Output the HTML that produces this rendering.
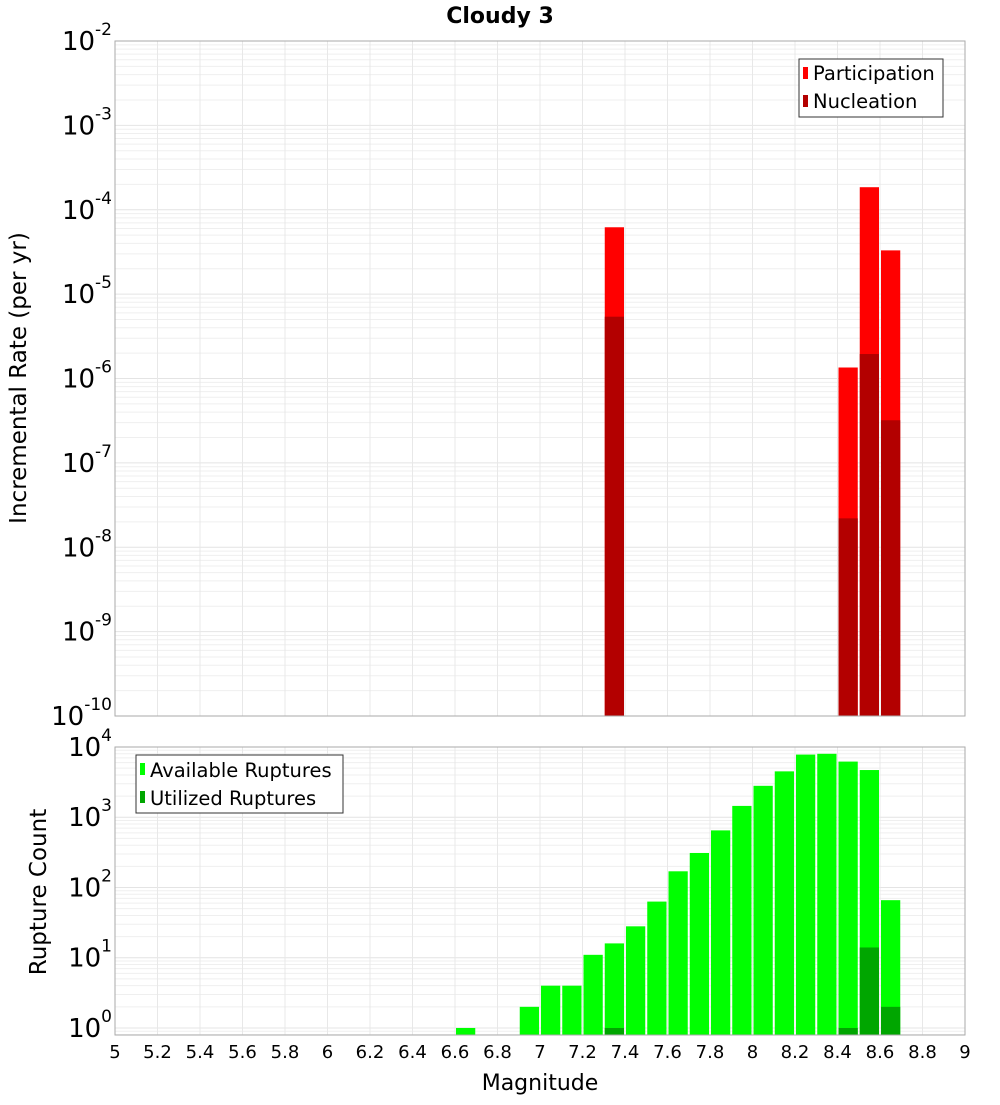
<!DOCTYPE html>
<html><head><meta charset="utf-8"><style>
body{margin:0;background:#fff}
svg text{font-family:"DejaVu Sans","Liberation Sans",sans-serif}
</style></head><body>
<svg id="c" width="1000" height="1100" xmlns="http://www.w3.org/2000/svg">
<text x="500" y="23" text-anchor="middle" font-size="22" font-weight="bold">Cloudy 3</text>
<g id="gtop"></g>
<g id="gbot"></g>
<text transform="translate(26,378) rotate(-90)" text-anchor="middle" font-size="23">Incremental Rate (per yr)</text>
<text transform="translate(46,892) rotate(-90)" text-anchor="middle" font-size="23">Rupture Count</text>
<text x="540" y="1090" text-anchor="middle" font-size="22">Magnitude</text>
<g id="legends">
<g>
<rect x="799" y="59" width="144" height="58" fill="#fff" stroke="#333"/>
<rect x="803" y="67" width="5" height="12" fill="#ff0000"/>
<text x="813" y="80" font-size="19.5">Participation</text>
<rect x="803" y="95" width="5" height="12" fill="#b30000"/>
<text x="813" y="108" font-size="19.5">Nucleation</text>
</g>
<g>
<rect x="136" y="755" width="207" height="58" fill="#fff" stroke="#333"/>
<rect x="140" y="763" width="5" height="12" fill="#00ff00"/>
<text x="150" y="777" font-size="19.5">Available Ruptures</text>
<rect x="140" y="791" width="5" height="12" fill="#00a600"/>
<text x="150" y="805" font-size="19.5">Utilized Ruptures</text>
</g>
</g>
</svg>
<script>
const xTicks=[5,5.2,5.4,5.6,5.8,6,6.2,6.4,6.6,6.8,7,7.2,7.4,7.6,7.8,8,8.2,8.4,8.6,8.8,9];
const rateMags=[7.35,8.45,8.55,8.65];
const participation=[6.2e-5,1.35e-6,1.85e-4,3.3e-5];
const nucleation=[5.4e-6,2.2e-8,1.95e-6,3.2e-7];
const countMags=[6.65,6.95,7.05,7.15,7.25,7.35,7.45,7.55,7.65,7.75,7.85,7.95,8.05,8.15,8.25,8.35,8.45,8.55,8.65];
const available=[1,2,4,4,11,16,28,63,170,310,650,1450,2800,4500,7800,8000,6200,4700,66];
const utilMags=[7.35,8.45,8.55,8.65];
const utilized=[1,1,14,2];
const rateDecades=[-2,-3,-4,-5,-6,-7,-8,-9,-10];
const countDecades=[0,1,2,3,4];

const NS='http://www.w3.org/2000/svg';
const L=115,R=965;
const xs=m=>L+(m-5)/4*(R-L);
function el(p,t,a){const e=document.createElementNS(NS,t);for(const k in a)e.setAttribute(k,a[k]);p.appendChild(e);return e;}
function panel(g,T,B,lmin,lmax,name){
  const ys=v=>B-(Math.log10(v)-lmin)/(lmax-lmin)*(B-T);
  el(g,'rect',{x:L,y:T,width:R-L,height:B-T,fill:'#fff'});
  for(let d=Math.floor(lmin);d<lmax;d++)for(let k=1;k<10;k++){
    const v=k*Math.pow(10,d);const l=Math.log10(v);if(l<lmin||l>lmax)continue;
    const y=ys(v);
    const ln=el(g,'line',{x1:L,x2:R,y1:y,y2:y,stroke:k==1?'#e4e4e4':'#efefef','stroke-width':1});
    
    
  }
  xTicks.forEach(t=>{const x=xs(t);
    const ln=el(g,'line',{x1:x,x2:x,y1:T,y2:B,stroke:'#e8e8e8'});
    
    });
  return ys;
}
function bar(g,m,v,ys,B,fill,name){
  const x0=xs(m-0.05)+1,x1=xs(m+0.05)-1;const y=ys(v);
  const r=el(g,'rect',{x:x0,y:y,width:x1-x0,height:B-y,fill:fill});
  
  
}
const svgRoot=document.getElementById('c');
function ylab(d,y,name){
  const t=el(svgRoot,'text',{x:112,y:y+9,'text-anchor':'end','font-size':26});
  
  
  const a=el(t,'tspan',{});a.textContent='10';
  const b=el(t,'tspan',{dy:-15,'font-size':17});b.textContent=String(d);
}
const gTop=document.getElementById('gtop');
const T1=41,B1=716;
const ys1=panel(gTop,T1,B1,-10,-2,'rate');
rateMags.forEach((m,i)=>{bar(gTop,m,participation[i],ys1,B1,'#ff0000','participation-bar');bar(gTop,m,nucleation[i],ys1,B1,'#b30000','nucleation-bar');});
el(gTop,'rect',{x:L,y:T1,width:R-L,height:B1-T1,fill:'none',stroke:'#aaa'});
rateDecades.forEach(d=>ylab(d,ys1(Math.pow(10,d)),'rate-y-tick'));

const gBot=document.getElementById('gbot');
const T2=747,B2=1035;
const ys2=panel(gBot,T2,B2,-0.1,4.0,'count');
countMags.forEach((m,i)=>bar(gBot,m,available[i],ys2,B2,'#00ff00','available-bar'));
utilMags.forEach((m,i)=>bar(gBot,m,utilized[i],ys2,B2,'#00a600','utilized-bar'));
el(gBot,'rect',{x:L,y:T2,width:R-L,height:B2-T2,fill:'none',stroke:'#aaa'});
countDecades.forEach(d=>ylab(d,ys2(Math.pow(10,d)),'count-y-tick'));
xTicks.forEach(t=>{
  const e=el(svgRoot,'text',{x:xs(t),y:1058,'text-anchor':'middle','font-size':18});
  
  
  e.textContent=String(t);
});
</script>
</body></html>
